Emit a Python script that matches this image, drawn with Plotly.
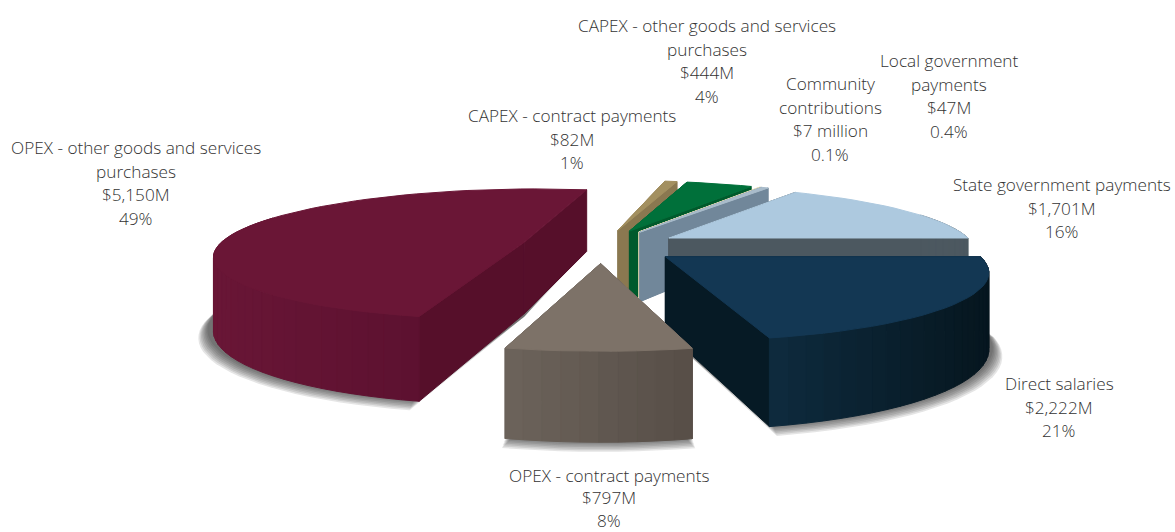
import math
import plotly.graph_objects as go

# Spending breakdown, in drawing order around the pie (clockwise from 3 o'clock)
categories = ["Direct salaries", "OPEX - contract payments", "OPEX - other goods and services purchases",
              "CAPEX - contract payments", "CAPEX - other goods and services purchases",
              "Community contributions", "Local government payments", "State government payments"]
values = [2222, 797, 5150, 82, 444, 7, 47, 1701]

label_lines = [
    ["Direct salaries", "$2,222M", "21%"],
    ["OPEX - contract payments", "$797M", "8%"],
    ["OPEX - other goods and services", "purchases", "$5,150M", "49%"],
    ["CAPEX - contract payments", "$82M", "1%"],
    ["CAPEX - other goods and services", "purchases", "$444M", "4%"],
    ["Community", "contributions", "$7 million", "0.1%"],
    ["Local government", "payments", "$47M", "0.4%"],
    ["State government payments", "$1,701M", "16%"],
]

# Label block placement: centre x, first-line y, line step
LABEL_X = [1059, 609, 136, 572, 707, 830, 948.5, 1061.5]
LABEL_Y = [383.5, 475, 147.5, 115.5, 25.5, 83.5, 60.5, 184.5]
LABEL_STEP = [23.6, 22.5, 23.6, 23.6, 23.6, 23.6, 23.6, 23.6]

top_colors = ["#133753", "#7d7268", "#6a1636", "#a39060", "#00703a", "#e8dfb8", "#a9bccb", "#adc9df"]
cut_colors = ["#061a25", "#5a5149", "#560f2a", "#8a7850", "#005a2c", "#d8cfa8", "#71879a", "#4c5860"]
rim_left = ["#0e2b3e", "#6c635b", "#691636", "#8a7850", "#005a2c", "#d8cfa8", "#71879a", "#4c5860"]
rim_right = ["#06161f", "#574e47", "#5c1130", "#8a7850", "#005a2c", "#d8cfa8", "#71879a", "#4c5860"]

# Camera and extrusion settings for the tilted, exploded pie
CX, CY = 601, 246
RADIUS_X, RADIUS_Y = 306, 64.4
DEPTH = 5.5
PULL = 0.26
THICKNESS = 72
PAINT_ORDER = [2, 3, 4, 5, 6, 7, 0, 1]


def project(wx, wy):
    scale = DEPTH / (DEPTH - wy)
    return CX + RADIUS_X * wx * scale, CY + RADIUS_Y * wy * scale, scale


def drop(scale):
    return THICKNESS * scale ** 0.9


def hex_mix(a, b, f):
    ca = [int(a[i:i + 2], 16) for i in (1, 3, 5)]
    cb = [int(b[i:i + 2], 16) for i in (1, 3, 5)]
    return "#%02x%02x%02x" % tuple(round(p + (q - p) * f) for p, q in zip(ca, cb))


def angles(start, end, step=3.0):
    n = max(1, math.ceil((end - start) / step))
    return [start + (end - start) * i / n for i in range(n + 1)]


fig = go.Figure()


def add_poly(xs, ys, color, edge=1.0):
    fig.add_trace(go.Scatter(x=xs + xs[:1], y=ys + ys[:1], mode="lines", fill="toself",
                             fillcolor=color, line=dict(width=edge, color=color),
                             hoverinfo="skip", showlegend=False))


total = sum(values)
spans = []
cursor = 0.0
for v in values:
    spans.append((cursor, cursor + 360.0 * v / total))
    cursor = spans[-1][1]


def apex_of(i):
    mid = math.radians(sum(spans[i]) / 2)
    return PULL * math.cos(mid), PULL * math.sin(mid)


def rim_point(i, deg, grow=0.0):
    ax, ay = apex_of(i)
    r = 1.0 + grow
    return ax + r * math.cos(math.radians(deg)), ay + r * math.sin(math.radians(deg))


# Soft ground shadow beneath the large slices
for i in (2, 1, 0):
    for layer in range(7, -1, -1):
        grow = 0.004 * layer
        xs, ys = [], []
        ax, ay = apex_of(i)
        px, py, ps = project(ax, ay)
        xs.append(px)
        ys.append(py + drop(ps) + 3)
        for deg in angles(*spans[i]):
            wx, wy = rim_point(i, deg, grow)
            px, py, ps = project(wx, wy)
            xs.append(px - 6 * (i == 2) + 4 * (i == 0))
            ys.append(py + drop(ps) - 1 + layer * 1.0)
        add_poly(xs, ys, "rgba(40,40,40,0.12)", edge=0)

# Each slice: cut faces first, then the outer wall, then the top face
for i in PAINT_ORDER:
    start, end = spans[i]
    ax, ay = apex_of(i)
    apx, apy, aps = project(ax, ay)

    for deg in (start, end):
        wx, wy = rim_point(i, deg)
        px, py, ps = project(wx, wy)
        add_poly([apx, px, px, apx], [apy, py, py + drop(ps), apy + drop(aps)], cut_colors[i])

    wall_angles = angles(start, end)
    front = [d for d in wall_angles if math.sin(math.radians(d)) > -0.05]
    left_edge = min(project(*rim_point(i, d))[0] for d in front) if front else 0
    right_edge = max(project(*rim_point(i, d))[0] for d in front) if front else 1
    strips = list(zip(wall_angles[:-1], wall_angles[1:]))
    strips.sort(key=lambda p: math.sin(math.radians((p[0] + p[1]) / 2)))
    for d0, d1 in strips:
        if math.sin(math.radians((d0 + d1) / 2)) <= -0.4:
            continue
        x0, y0, s0 = project(*rim_point(i, d0))
        x1, y1, s1 = project(*rim_point(i, d1))
        # Left-to-right shading along the visible wall
        f = min(1.0, max(0.0, ((x0 + x1) / 2 - left_edge) / max(1.0, right_edge - left_edge)))
        add_poly([x0, x1, x1, x0], [y0, y1, y1 + drop(s1), y0 + drop(s0)],
                 hex_mix(rim_left[i], rim_right[i], f))

    xs, ys = [apx], [apy]
    for deg in wall_angles:
        px, py, _ = project(*rim_point(i, deg))
        xs.append(px)
        ys.append(py)
    add_poly(xs, ys, top_colors[i])

# Category labels, one annotation per text line
for lines, x, y, step in zip(label_lines, LABEL_X, LABEL_Y, LABEL_STEP):
    for n, text in enumerate(lines):
        fig.add_annotation(x=x, y=y + n * step, text=text, showarrow=False,
                           xanchor="center", yanchor="middle",
                           font=dict(family="Open Sans, sans-serif", size=17.2, color="#333333", weight=300))

fig.update_xaxes(range=[0, 1175], visible=False, fixedrange=True)
fig.update_yaxes(range=[532, 0], visible=False, fixedrange=True)
fig.update_layout(width=1175, height=532, margin=dict(l=0, r=0, t=0, b=0),
                  paper_bgcolor="white", plot_bgcolor="white", showlegend=False)

fig.write_html("out.html", config={"displayModeBar": False})
